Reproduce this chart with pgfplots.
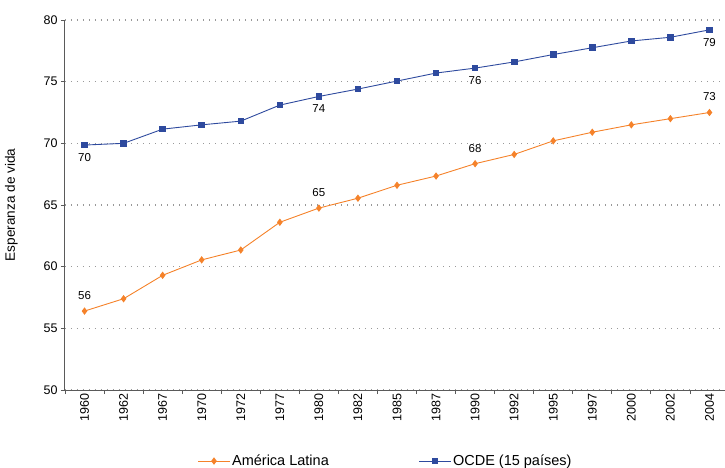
\documentclass[border=0pt]{standalone}
\usepackage{pgfplots}
\pgfplotsset{compat=1.18}
\usepackage{fontspec}
\setmainfont{Liberation Sans}
\definecolor{alorange}{HTML}{F5822A}
\definecolor{ocblue}{HTML}{2E4A9E}
\definecolor{axgray}{HTML}{5A5A5A}
\begin{document}
\begin{tikzpicture}
\begin{axis}[name=ax, scale only axis, width=664pt, height=370pt,
  xmin=-0.5, xmax=16.5, ymin=50, ymax=80,
  axis x line*=bottom, axis y line*=left,
  axis line style={draw=axgray, line width=1pt, -},
  /pgf/number format/assume math mode=true,
  tick align=outside,
  xtick={-0.5,0.5,...,16.5}, xticklabels={},
  major tick length=4pt,
  tick style={draw=axgray, line width=0.8pt},
  extra x ticks={0,1,...,16},
  extra x tick labels={1960,1962,1967,1970,1972,1977,1980,1982,1985,1987,1990,1992,1995,1997,2000,2002,2004},
  extra x tick style={major tick length=0pt, tick label style={rotate=90, anchor=east, font=\fontsize{12.5}{13}\selectfont}},
  ytick={50,55,...,80},
  y tick label style={font=\fontsize{12.5}{13}\selectfont},
  ymajorgrids, grid style={draw=black!40, line width=1.3pt, dash pattern=on 1.4pt off 4.6pt},
  ylabel={Esperanza de vida},
  ylabel style={at={(axis description cs:-0.066,0.5)}, anchor=south, font=\fontsize{13.6}{14}\selectfont},
  legend columns=2,
  legend style={at={(axis description cs:0.483,-0.192)}, anchor=center, draw=none, fill=none,
    font=\fontsize{14.5}{15}\selectfont,
    /tikz/every even column/.append style={column sep=88pt}},
  legend image code/.code={\draw[mark repeat=2,mark phase=2,#1] plot coordinates {(0cm,0cm) (0.55cm,0cm) (1.1cm,0cm)};},
  clip=false,
]
\addplot[color=alorange, line width=0.9pt, mark=diamond*, mark size=3pt, mark options={solid}] coordinates {
(0,56.4) (1,57.4) (2,59.3) (3,60.55) (4,61.35) (5,63.6) (6,64.75) (7,65.55) (8,66.6)
(9,67.35) (10,68.35) (11,69.1) (12,70.2) (13,70.9) (14,71.5) (15,72.0) (16,72.5)};
\addlegendentry{América Latina}
\addplot[color=ocblue, line width=0.9pt, mark=square*, mark size=2.8pt] coordinates {
(0,69.86) (1,70.0) (2,71.15) (3,71.5) (4,71.8) (5,73.1) (6,73.8) (7,74.4) (8,75.05)
(9,75.7) (10,76.1) (11,76.6) (12,77.2) (13,77.75) (14,78.3) (15,78.6) (16,79.2)};
\addlegendentry{OCDE (15 países)}
\begin{scope}[every node/.style={font=\fontsize{11.5}{12}\selectfont}]
\node[anchor=south, yshift=8pt] at (axis cs:0,56.4) {56};
\node[anchor=south, yshift=8pt] at (axis cs:6,64.75) {65};
\node[anchor=south, yshift=8pt] at (axis cs:10,68.35) {68};
\node[anchor=south, yshift=8pt] at (axis cs:16,72.5) {73};
\node[anchor=north, yshift=-5pt] at (axis cs:0,69.86) {70};
\node[anchor=north, yshift=-5pt] at (axis cs:6,73.8) {74};
\node[anchor=north, yshift=-5pt] at (axis cs:10,76.1) {76};
\node[anchor=north, yshift=-5pt] at (axis cs:16,79.2) {79};
\end{scope}
\end{axis}
\pgfresetboundingbox
\path[use as bounding box] ([xshift=-65pt,yshift=-78pt]ax.south west) rectangle ([xshift=-4pt,yshift=20pt]ax.north east);
\end{tikzpicture}
\end{document}
